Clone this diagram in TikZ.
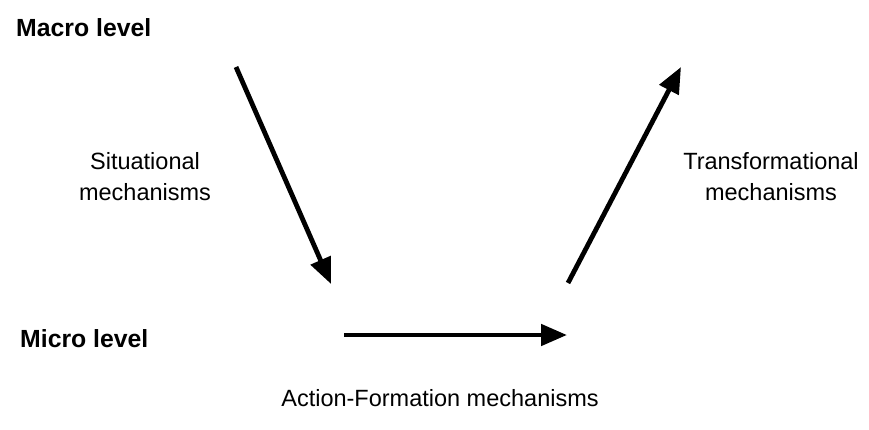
\documentclass[tikz,border=0pt]{standalone}
\usepackage{fontspec}
\setmainfont{Liberation Sans}
\usetikzlibrary{arrows.meta}
\begin{document}
\begin{tikzpicture}[x=1pt,y=-1pt,
  levellabel/.style={font=\fontsize{24.8}{30}\selectfont\bfseries, inner sep=0pt, anchor=base west},
  mechlabel/.style={font=\fontsize{23.5}{31}\selectfont, align=center, inner sep=0pt},
  mecharrow/.style={line width=4.8pt, -{Triangle[length=26pt,width=21pt]}}]
  \useasboundingbox (0,0) rectangle (869,430);
  % level labels
  \node[levellabel] (macro) at (16,37) {Macro level};
  \node[levellabel] (micro) at (20,347) {Micro level};
  % mechanism labels
  \node[mechlabel] (sit) at (145,177) {Situational\\mechanisms};
  \node[mechlabel] (trans) at (771,177) {Transformational\\mechanisms};
  \node[mechlabel] (act) at (440,398) {Action-Formation mechanisms};
  % arrow end points
  \coordinate (macroL) at (236,67);
  \coordinate (microL) at (331,284);
  \coordinate (microA) at (344,335);
  \coordinate (microB) at (567,335);
  \coordinate (microR) at (568,283);
  \coordinate (macroR) at (681,67);
  % the three mechanism arrows
  \draw[mecharrow] (macroL) -- (microL);
  \draw[mecharrow] (microA) -- (microB);
  \draw[mecharrow] (microR) -- (macroR);
\end{tikzpicture}
\end{document}
